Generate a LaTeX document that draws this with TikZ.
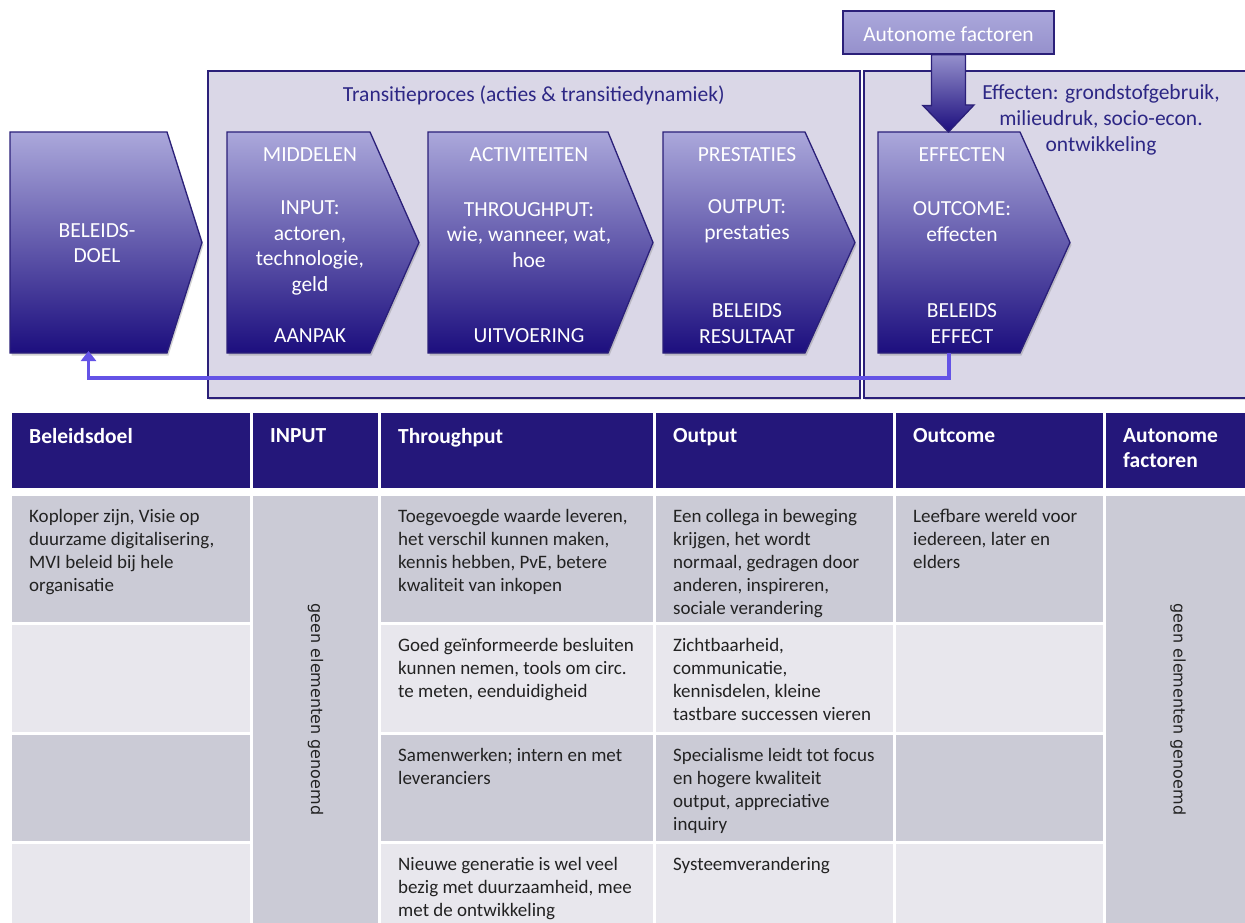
\documentclass[tikz,border=0pt]{standalone}
\usepackage{fontspec}
\setmainfont{Carlito}
\newfontfamily\vertfont{DejaVu Sans}
\usetikzlibrary{positioning,arrows.meta,shadows}

\definecolor{framecol}{HTML}{2B2079}
\definecolor{panelfill}{HTML}{DAD7E7}
\definecolor{chevtop}{HTML}{ABA8DB}
\definecolor{chevbot}{HTML}{1C0E7E}
\definecolor{autobot}{HTML}{9590CC}
\definecolor{headfill}{HTML}{24177A}
\definecolor{rowdark}{HTML}{CBCBD6}
\definecolor{rowlight}{HTML}{E8E7ED}
\definecolor{titleblue}{HTML}{2D2785}
\definecolor{loopcol}{HTML}{6453E6}
\definecolor{bodytext}{HTML}{222222}

\begin{document}
\begin{tikzpicture}[
        x=1pt, y=-1pt,
        panel/.style={draw=framecol, line width=1.6pt, fill=panelfill, inner sep=0pt, anchor=north west,
            drop shadow={shadow xshift=1.5pt, shadow yshift=-2.5pt, opacity=0.3}},
        chevron/.style={draw=framecol, line width=1.3pt, top color=chevtop, bottom color=chevbot,
            drop shadow={shadow xshift=1.5pt, shadow yshift=-2.5pt, opacity=0.35}},
        blockarrow/.style={draw=framecol, line width=1.3pt, top color=autobot, bottom color=chevbot},
        autobox/.style={draw=framecol, line width=1.3pt, top color=chevtop, bottom color=autobot,
            text=white, font=\fontsize{21.5}{25.5}\selectfont, inner sep=0pt, text height=19pt},
        chevtext/.style={text=white, font=\fontsize{21.5}{25.5}\selectfont, align=center, inner sep=0pt},
        paneltitle/.style={text=titleblue, font=\fontsize{21.5}{26}\selectfont, align=center, inner sep=0pt},
        feedback/.style={draw=loopcol, line width=3.8pt, shorten >=-2pt, -{Triangle[length=10pt,width=15pt]}},
        cell/.style={draw=none, inner sep=0pt, outer sep=0pt, anchor=north west},
        headtext/.style={text=white, font=\bfseries\fontsize{21.5}{25}\selectfont, align=left, inner sep=0pt, anchor=north west},
        celltext/.style={text=bodytext, font=\fontsize{19}{23}\selectfont, align=left, inner sep=0pt, anchor=north west},
        verttext/.style={text=bodytext, font=\vertfont\fontsize{16}{18}\selectfont, rotate=-90, inner sep=0pt},
    ]
    \useasboundingbox (0,0) rectangle (1245,923);

    % upper part: process chain
    \node[panel, minimum width=652, minimum height=327] (trans) at (207,70) {};
    \node[panel, minimum width=400, minimum height=327] (effpanel) at (863,70) {};
    \node[paneltitle, below=16pt of trans.north] (transtitle) {Transitieproces (acties \& transitiedynamiek)};
    \node[paneltitle] (efftitle) at (1101,120) {Effecten: grondstofgebruik,\\milieudruk, socio-econ.\\ontwikkeling};

    \foreach \xa/\xb/\xc/\name in {10/167/202/doel, 227/370/419/middelen, 428/608/653/activiteiten,
            663/805/855/prestaties, 878/1020/1070/effecten} {
        \path[chevron] (\xa,132) -- (\xb,132) -- (\xc,242.5) -- (\xb,353) -- (\xa,353) -- cycle;
        \node[cell, minimum width={\xb-\xa}, minimum height=221] (\name) at (\xa,132) {};
    }
    \foreach \pos/\name/\txt in {
            {(97,243)/doel-t/{BELEIDS-\\DOEL}},
            {(310,155)/middelen-a/MIDDELEN}, {(310,248)/middelen-b/{INPUT:\\actoren,\\technologie,\\geld}},
            {(310,336)/middelen-c/AANPAK},
            {(529,155)/activiteiten-a/ACTIVITEITEN}, {(529,235)/activiteiten-b/{THROUGHPUT:\\wie, wanneer, wat,\\hoe}},
            {(529,336)/activiteiten-c/UITVOERING},
            {(747,155)/prestaties-a/PRESTATIES}, {(747,221.5)/prestaties-b/{OUTPUT:\\prestaties}},
            {(747,323.5)/prestaties-c/{BELEIDS\\RESULTAAT}},
            {(962,155)/effecten-a/EFFECTEN}, {(962,221.5)/effecten-b/{OUTCOME:\\effecten}},
            {(962,323.5)/effecten-c/{BELEIDS\\EFFECT}}}
        \node[chevtext] (\name) at \pos {\txt};

    \node[autobox, minimum width=211, minimum height=43] (auto) at (948.5,32.5) {Autonome factoren};
    \path[blockarrow] ([xshift=-17pt]auto.south) -- ++(0,51) -- ++(-8.5,0) -- (auto.south |- effecten.north)
        -- ++(25.5,-27) -- ++(-8.5,0) -- ([xshift=17pt]auto.south) -- cycle;

    \draw[feedback] (effecten.south) -- ++(0,25) -| (doel.south);

    % lower part: table
    \foreach \col/\xa/\xb/\txt in {1/12/250/Beleidsdoel, 2/253/378/INPUT, 3/381/653/Throughput,
            4/656/893/Output, 5/896/1103/Outcome, 6/1106/1250/{Autonome\\factoren}} {
        \node[cell, fill=headfill, minimum width={\xb-\xa}, minimum height=75] (h\col) at (\xa,413) {};
        \node[headtext, below right=15pt and 17pt of h\col.north west] (h\col-t) {\txt};
    }
    \foreach \row/\ya/\yb/\shade in {1/496/622/rowdark, 2/625/732/rowlight, 3/735/841/rowdark, 4/844/923/rowlight}
        \foreach \col/\xa/\xb in {1/12/250, 3/381/653, 4/656/893, 5/896/1103}
            \node[cell, fill=\shade, minimum width={\xb-\xa}, minimum height={\yb-\ya}] (c\row\col) at (\xa,\ya) {};
    \node[cell, fill=rowdark, minimum width=125, minimum height=427] (inputcol) at (253,496) {};
    \node[cell, fill=rowdark, minimum width=144, minimum height=427] (autocol) at (1106,496) {};
    \node[verttext] (inputnote) at (inputcol.center) {geen elementen genoemd};
    \node[verttext] (autonote) at (autocol.center) {geen elementen genoemd};

    \foreach \cname/\txt in {
            c11/{Koploper zijn, Visie op\\duurzame digitalisering,\\MVI beleid bij hele\\organisatie},
            c13/{Toegevoegde waarde leveren,\\het verschil kunnen maken,\\kennis hebben, PvE, betere\\kwaliteit van inkopen},
            c14/{Een collega in beweging\\krijgen, het wordt\\normaal, gedragen door\\anderen, inspireren,\\sociale verandering},
            c15/{Leefbare wereld voor\\iedereen, later en\\elders},
            c23/{Goed geïnformeerde besluiten\\kunnen nemen, tools om circ.\\te meten, eenduidigheid},
            c24/{Zichtbaarheid,\\communicatie,\\kennisdelen, kleine\\tastbare successen vieren},
            c33/{Samenwerken; intern en met\\leveranciers},
            c34/{Specialisme leidt tot focus\\en hogere kwaliteit\\output, appreciative\\inquiry},
            c43/{Nieuwe generatie is wel veel\\bezig met duurzaamheid, mee\\met de ontwikkeling},
            c44/{Systeemverandering}}
        \node[celltext, below right=13pt and 17pt of \cname.north west] (\cname-t) {\txt};
\end{tikzpicture}
\end{document}
